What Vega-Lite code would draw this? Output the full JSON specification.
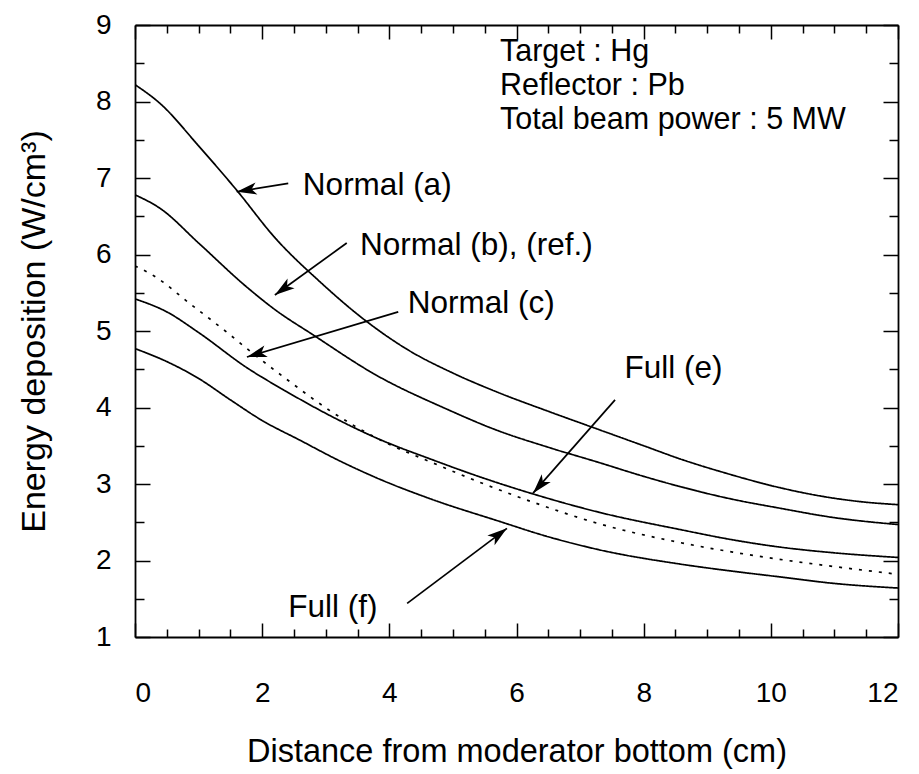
{
  "$schema": "https://vega.github.io/schema/vega-lite/v6.json",
  "width": 763,
  "height": 612,
  "autosize": {"type": "none"},
  "padding": {"left": 135, "top": 25, "right": 21, "bottom": 137},
  "background": "white",
  "config": {
    "view": {"stroke": null},
    "font": "Liberation Sans",
    "axis": {
      "grid": false,
      "domainColor": "black",
      "domainWidth": 1.8,
      "tickColor": "black",
      "tickWidth": 1.5,
      "labelColor": "black",
      "titleColor": "black",
      "labelFont": "Liberation Sans",
      "titleFont": "Liberation Sans",
      "titleFontWeight": "normal"
    }
  },
  "datasets": {
    "curves": [
      {"curve": "a", "x": 0, "y": 8.22}, {"curve": "a", "x": 0.4, "y": 7.97}, {"curve": "a", "x": 1.0, "y": 7.42}, {"curve": "a", "x": 1.6, "y": 6.84}, {"curve": "a", "x": 2.2, "y": 6.22}, {"curve": "a", "x": 2.9, "y": 5.65}, {"curve": "a", "x": 3.65, "y": 5.12}, {"curve": "a", "x": 4.3, "y": 4.75}, {"curve": "a", "x": 5.0, "y": 4.45}, {"curve": "a", "x": 5.7, "y": 4.2}, {"curve": "a", "x": 6.5, "y": 3.95}, {"curve": "a", "x": 7.3, "y": 3.71}, {"curve": "a", "x": 8.0, "y": 3.5}, {"curve": "a", "x": 8.6, "y": 3.32}, {"curve": "a", "x": 9.3, "y": 3.14}, {"curve": "a", "x": 10.1, "y": 2.96}, {"curve": "a", "x": 10.8, "y": 2.84}, {"curve": "a", "x": 11.4, "y": 2.77}, {"curve": "a", "x": 12, "y": 2.73},
      {"curve": "b", "x": 0, "y": 6.78}, {"curve": "b", "x": 0.4, "y": 6.6}, {"curve": "b", "x": 1.0, "y": 6.15}, {"curve": "b", "x": 1.75, "y": 5.58}, {"curve": "b", "x": 2.2, "y": 5.28}, {"curve": "b", "x": 2.8, "y": 4.95}, {"curve": "b", "x": 3.8, "y": 4.42}, {"curve": "b", "x": 4.9, "y": 3.98}, {"curve": "b", "x": 5.7, "y": 3.7}, {"curve": "b", "x": 6.5, "y": 3.48}, {"curve": "b", "x": 7.3, "y": 3.28}, {"curve": "b", "x": 8.0, "y": 3.1}, {"curve": "b", "x": 8.6, "y": 2.96}, {"curve": "b", "x": 9.4, "y": 2.8}, {"curve": "b", "x": 10.1, "y": 2.69}, {"curve": "b", "x": 11.0, "y": 2.56}, {"curve": "b", "x": 12, "y": 2.47},
      {"curve": "c", "x": 0, "y": 5.85}, {"curve": "c", "x": 0.3, "y": 5.72}, {"curve": "c", "x": 0.86, "y": 5.36}, {"curve": "c", "x": 1.45, "y": 4.98}, {"curve": "c", "x": 1.76, "y": 4.77}, {"curve": "c", "x": 2.4, "y": 4.36}, {"curve": "c", "x": 3.1, "y": 3.94}, {"curve": "c", "x": 3.8, "y": 3.6}, {"curve": "c", "x": 4.7, "y": 3.27}, {"curve": "c", "x": 5.4, "y": 3.03}, {"curve": "c", "x": 6.3, "y": 2.75}, {"curve": "c", "x": 7.3, "y": 2.48}, {"curve": "c", "x": 8.6, "y": 2.23}, {"curve": "c", "x": 9.4, "y": 2.11}, {"curve": "c", "x": 10.1, "y": 2.02}, {"curve": "c", "x": 11.0, "y": 1.92}, {"curve": "c", "x": 12, "y": 1.82},
      {"curve": "e", "x": 0, "y": 5.42}, {"curve": "e", "x": 0.5, "y": 5.25}, {"curve": "e", "x": 1.0, "y": 4.98}, {"curve": "e", "x": 1.76, "y": 4.52}, {"curve": "e", "x": 2.4, "y": 4.2}, {"curve": "e", "x": 3.1, "y": 3.88}, {"curve": "e", "x": 3.8, "y": 3.6}, {"curve": "e", "x": 4.7, "y": 3.31}, {"curve": "e", "x": 5.4, "y": 3.1}, {"curve": "e", "x": 6.3, "y": 2.86}, {"curve": "e", "x": 7.3, "y": 2.63}, {"curve": "e", "x": 8.6, "y": 2.4}, {"curve": "e", "x": 9.4, "y": 2.27}, {"curve": "e", "x": 10.1, "y": 2.18}, {"curve": "e", "x": 11.0, "y": 2.1}, {"curve": "e", "x": 12, "y": 2.04},
      {"curve": "f", "x": 0, "y": 4.77}, {"curve": "f", "x": 0.5, "y": 4.6}, {"curve": "f", "x": 1.0, "y": 4.38}, {"curve": "f", "x": 1.5, "y": 4.1}, {"curve": "f", "x": 2.0, "y": 3.83}, {"curve": "f", "x": 2.6, "y": 3.57}, {"curve": "f", "x": 3.2, "y": 3.31}, {"curve": "f", "x": 3.8, "y": 3.08}, {"curve": "f", "x": 4.7, "y": 2.79}, {"curve": "f", "x": 5.7, "y": 2.52}, {"curve": "f", "x": 6.5, "y": 2.31}, {"curve": "f", "x": 7.3, "y": 2.14}, {"curve": "f", "x": 8.6, "y": 1.95}, {"curve": "f", "x": 9.4, "y": 1.86}, {"curve": "f", "x": 10.1, "y": 1.79}, {"curve": "f", "x": 11.0, "y": 1.7}, {"curve": "f", "x": 12, "y": 1.64}
    ],
    "info": [
      {"text": "Target : Hg", "x": 5.74, "y": 8.53},
      {"text": "Reflector : Pb", "x": 5.74, "y": 8.085},
      {"text": "Total beam power : 5 MW", "x": 5.74, "y": 7.64}
    ],
    "labels": [
      {"text": "Normal (a)", "x": 2.64, "y": 6.78},
      {"text": "Normal (b), (ref.)", "x": 3.54, "y": 6.0},
      {"text": "Normal (c)", "x": 4.29, "y": 5.24},
      {"text": "Full (e)", "x": 7.7, "y": 4.39},
      {"text": "Full (f)", "x": 2.41, "y": 1.26}
    ],
    "arrows": [
      {"label": "a", "tx": 2.41, "ty": 6.93, "hx": 1.6, "hy": 6.82},
      {"label": "b", "tx": 3.33, "ty": 6.15, "hx": 2.2, "hy": 5.47},
      {"label": "c", "tx": 4.14, "ty": 5.25, "hx": 1.76, "hy": 4.66},
      {"label": "e", "tx": 7.55, "ty": 4.1, "hx": 6.26, "hy": 2.88},
      {"label": "f", "tx": 4.28, "ty": 1.44, "hx": 5.85, "hy": 2.42}
    ]
  },
  "layer": [
    {
      "data": {"name": "curves"},
      "mark": {"type": "line", "color": "black", "strokeWidth": 1.7, "interpolate": "monotone", "clip": true},
      "encoding": {
        "x": {
          "field": "x", "type": "quantitative",
          "scale": {"domain": [0, 12], "nice": false, "zero": false},
          "axis": {
            "orient": "bottom",
            "values": [0,0.5,1,1.5,2,2.5,3,3.5,4,4.5,5,5.5,6,6.5,7,7.5,8,8.5,9,9.5,10,10.5,11,11.5,12],
            "labelExpr": "datum.value % 2 === 0 ? '' + datum.value : ''",
            "tickSize": {"condition": {"test": "datum.value % 2 === 0", "value": -14}, "value": -8},
            "labelFontSize": 28,
            "labelPadding": 56,
            "title": "Distance from moderator bottom (cm)",
            "titleFontSize": 32.5,
            "titlePadding": 28
          }
        },
        "y": {
          "field": "y", "type": "quantitative",
          "scale": {"domain": [1, 9], "nice": false, "zero": false},
          "axis": {
            "orient": "left",
            "values": [1,1.5,2,2.5,3,3.5,4,4.5,5,5.5,6,6.5,7,7.5,8,8.5,9],
            "labelExpr": "datum.value % 1 === 0 ? '' + datum.value : ''",
            "tickSize": {"condition": {"test": "datum.value % 1 === 0", "value": -15}, "value": -9},
            "labelFontSize": 28,
            "labelPadding": 39,
            "title": "Energy deposition (W/cm³)",
            "titleFontSize": 34,
            "titlePadding": 44
          }
        },
        "detail": {"field": "curve"},
        "strokeDash": {
          "field": "curve", "type": "nominal",
          "scale": {"domain": ["a", "b", "c", "e", "f"], "range": [[1, 0], [1, 0], [3, 7], [1, 0], [1, 0]]},
          "legend": null
        }
      }
    },
    {
      "data": {"name": "arrows"},
      "mark": {"type": "rule", "color": "black", "strokeWidth": 1.7},
      "encoding": {
        "x": {"field": "tx", "type": "quantitative", "axis": null},
        "y": {"field": "ty", "type": "quantitative", "axis": null},
        "x2": {"field": "hx"},
        "y2": {"field": "hy"}
      }
    },
    {
      "data": {"name": "arrows"},
      "transform": [
        {"calculate": "atan2((datum.hx - datum.tx) * 763 / 12, (datum.hy - datum.ty) * 612 / 8) * 180 / PI", "as": "ang"}
      ],
      "mark": {"type": "point", "filled": true, "color": "black", "opacity": 1, "shape": "M0,0 L-0.6,2 L0,1.5 L0.6,2 Z", "size": 400, "strokeWidth": 0},
      "encoding": {
        "x": {"field": "hx", "type": "quantitative", "axis": null},
        "y": {"field": "hy", "type": "quantitative", "axis": null},
        "angle": {"field": "ang", "type": "quantitative", "scale": null}
      }
    },
    {
      "data": {"name": "labels"},
      "mark": {"type": "text", "align": "left", "baseline": "alphabetic", "fontSize": 31.5, "font": "Liberation Sans", "color": "black"},
      "encoding": {
        "x": {"field": "x", "type": "quantitative", "axis": null},
        "y": {"field": "y", "type": "quantitative", "axis": null},
        "text": {"field": "text"}
      }
    },
    {
      "data": {"name": "info"},
      "mark": {"type": "text", "align": "left", "baseline": "alphabetic", "fontSize": 30.5, "font": "Liberation Sans", "color": "black"},
      "encoding": {
        "x": {"field": "x", "type": "quantitative", "axis": null},
        "y": {"field": "y", "type": "quantitative", "axis": null},
        "text": {"field": "text"}
      }
    },
    {
      "data": {"name": "curves"},
      "mark": {"type": "point", "opacity": 0},
      "encoding": {
        "x": {
          "field": "x", "type": "quantitative",
          "axis": {
            "orient": "top",
            "values": [0,0.5,1,1.5,2,2.5,3,3.5,4,4.5,5,5.5,6,6.5,7,7.5,8,8.5,9,9.5,10,10.5,11,11.5,12],
            "labels": false, "title": null,
            "tickSize": {"condition": {"test": "datum.value % 2 === 0", "value": -14}, "value": -8}
          }
        },
        "y": {
          "field": "y", "type": "quantitative",
          "axis": {
            "orient": "right",
            "values": [1,1.5,2,2.5,3,3.5,4,4.5,5,5.5,6,6.5,7,7.5,8,8.5,9],
            "labels": false, "title": null,
            "tickSize": {"condition": {"test": "datum.value % 1 === 0", "value": -15}, "value": -9}
          }
        }
      }
    }
  ],
  "resolve": {"axis": {"x": "independent", "y": "independent"}}
}
